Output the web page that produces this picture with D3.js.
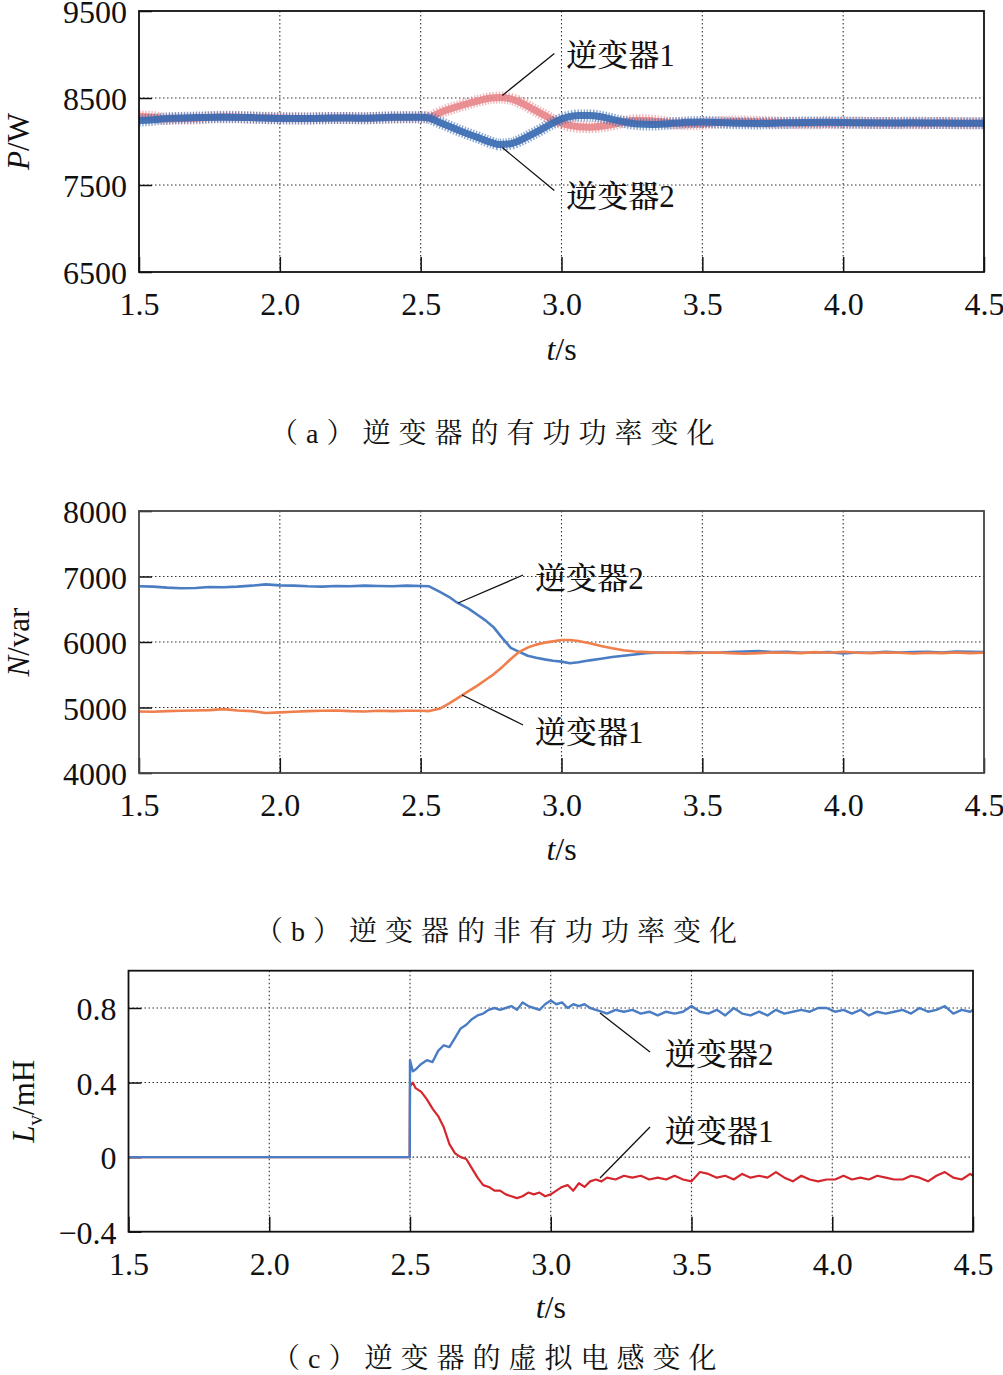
<!DOCTYPE html>
<html><head><meta charset="utf-8">
<script src="https://cdn.jsdelivr.net/npm/d3@7"></script>
<style>body{margin:0;background:#fff}svg{display:block}</style>
</head><body><svg id="c" width="1003" height="1375"></svg>
<script>
// ---------- data ----------
const timeTicks = [1.5, 2.0, 2.5, 3.0, 3.5, 4.0, 4.5];
const pTicks = [6500, 7500, 8500, 9500];
const nTicks = [4000, 5000, 6000, 7000, 8000];
const lTicks = [-0.4, 0, 0.4, 0.8];
const seriesNames = ['逆变器1', '逆变器2'];
const captions = [['a', '逆变器的有功功率变化'], ['b', '逆变器的非有功功率变化'], ['c', '逆变器的虚拟电感变化']];

// (a) active power P/W
const P_T = [1.5,1.55,1.6,1.7,1.8,1.9,2.0,2.1,2.2,2.3,2.4,2.5,2.53,2.56,2.6,2.65,2.7,2.75,2.78,2.82,2.86,2.9,2.94,2.98,3.02,3.06,3.1,3.14,3.18,3.22,3.27,3.32,3.38,3.45,3.5,3.56,3.62,3.7,3.78,3.86,3.95,4.05,4.15,4.25,4.35,4.5];
const P_INV1 = [8290,8280,8260,8265,8285,8275,8270,8265,8270,8268,8275,8280,8280,8320,8370,8420,8465,8500,8505,8490,8440,8370,8300,8235,8190,8170,8165,8175,8195,8225,8245,8240,8215,8200,8205,8220,8230,8225,8218,8210,8212,8215,8212,8210,8212,8210];
const P_INV2 = [8240,8250,8265,8275,8280,8275,8265,8265,8270,8268,8278,8280,8270,8230,8175,8110,8050,7990,7965,7975,8025,8090,8160,8230,8280,8300,8300,8285,8255,8225,8200,8195,8205,8220,8225,8218,8210,8208,8212,8218,8220,8215,8212,8215,8212,8210];

// (b) non-active power N/var
const N_T = [1.5,1.55,1.6,1.65,1.7,1.75,1.8,1.85,1.9,1.95,2.0,2.05,2.1,2.15,2.2,2.25,2.3,2.35,2.4,2.45,2.5,
  2.53,2.57,2.6,2.63,2.67,2.7,2.73,2.76,2.79,2.82,2.85,2.88,2.91,2.94,2.97,3.0,3.03,3.06,3.1,3.14,3.18,3.22,3.26,3.3,
  3.35,3.4,3.45,3.5,3.55,3.6,3.65,3.7,3.75,3.8,3.85,3.9,3.95,4.0,4.05,4.1,4.15,4.2,4.25,4.3,4.35,4.4,4.45,4.5];
const N_INV1 = [4940,4935,4945,4950,4955,4960,4975,4955,4945,4915,4925,4935,4945,4950,4955,4945,4940,4950,4945,4950,4950,
  4945,4985,5060,5140,5250,5330,5420,5510,5620,5740,5850,5915,5960,5990,6010,6030,6030,6015,5980,5940,5905,5875,5855,5845,
  5835,5840,5830,5835,5840,5830,5820,5830,5840,5835,5830,5845,5835,5850,5835,5830,5840,5835,5825,5835,5830,5840,5830,5835];
const N_INV2 = [6850,6845,6830,6820,6825,6840,6835,6845,6860,6880,6865,6860,6850,6845,6855,6850,6860,6855,6850,6860,6855,
  6850,6760,6690,6600,6510,6420,6330,6220,6060,5910,5850,5790,5760,5735,5715,5700,5675,5690,5720,5745,5770,5790,5810,5830,
  5840,5835,5845,5840,5835,5845,5855,5860,5845,5850,5835,5840,5845,5825,5840,5835,5850,5840,5845,5850,5840,5855,5850,5845];

// (c) virtual inductance Lv/mH
const L_T = [1.5,2.499,2.5,2.51,2.52,
  2.54,2.56,2.58,2.60,2.62,2.64,2.66,2.68,2.70,2.72,2.74,2.76,2.78,2.80,2.82,2.84,2.86,2.88,2.90,2.92,2.94,2.96,2.98,3.00,3.02,3.04,3.06,3.08,3.10,3.12,3.14,3.16,3.18,
  3.20,3.23,3.26,3.29,3.32,3.35,3.38,3.41,3.44,3.47,3.50,3.53,3.56,3.59,3.62,3.65,3.68,3.71,3.74,3.77,3.80,3.83,3.86,3.89,3.92,3.95,3.98,4.01,4.04,4.07,4.10,4.13,4.16,4.19,4.22,4.25,4.28,4.31,4.34,4.37,4.40,4.43,4.46,4.49,4.5];
const L_INV1 = [0,0,0.38,0.40,0.37,
  0.35,0.31,0.26,0.22,0.16,0.07,0.02,0.00,-0.01,-0.06,-0.11,-0.15,-0.16,-0.18,-0.18,-0.20,-0.21,-0.22,-0.21,-0.19,-0.20,-0.19,-0.21,-0.20,-0.18,-0.16,-0.15,-0.18,-0.14,-0.16,-0.13,-0.12,-0.13,
  -0.11,-0.12,-0.10,-0.11,-0.10,-0.12,-0.11,-0.12,-0.10,-0.12,-0.13,-0.08,-0.09,-0.11,-0.10,-0.12,-0.09,-0.11,-0.10,-0.11,-0.08,-0.11,-0.13,-0.10,-0.12,-0.13,-0.12,-0.12,-0.10,-0.12,-0.11,-0.12,-0.10,-0.11,-0.12,-0.12,-0.10,-0.11,-0.13,-0.10,-0.08,-0.11,-0.12,-0.09,-0.10];
const L_INV2 = [0,0,0.52,0.46,0.47,
  0.50,0.52,0.51,0.57,0.60,0.59,0.64,0.69,0.71,0.74,0.76,0.77,0.79,0.80,0.79,0.80,0.81,0.79,0.83,0.81,0.80,0.79,0.82,0.84,0.82,0.83,0.80,0.82,0.81,0.82,0.80,0.79,0.78,
  0.77,0.79,0.78,0.79,0.77,0.78,0.76,0.78,0.77,0.78,0.81,0.78,0.77,0.79,0.76,0.80,0.77,0.76,0.78,0.76,0.79,0.77,0.78,0.79,0.78,0.80,0.80,0.78,0.79,0.77,0.79,0.76,0.78,0.77,0.78,0.79,0.77,0.80,0.78,0.79,0.81,0.77,0.79,0.78,0.79];

// ---------- drawing ----------
const svg = d3.select('#c');
const SERIF = '"Liberation Serif","Times New Roman",serif';
const CJK = '"Noto Serif CJK SC","Noto Sans CJK SC","Noto Sans CJK JP",sans-serif';

const panels = [
  { l: 139, r: 984, t: 11, b: 272, dom: [6500, 9500], ticks: pTicks, grid: [7500, 8500], fmt: d3.format('d'),
    frame: '#111', yl: { x: 29, parts: [['P', 'italic'], ['/W', 'normal']] }, xlY: 360, cap: { x: 270, y: 443, i: 0 },
    series: [{ t: P_T, v: P_INV1, c: '#e8868b', band: true }, { t: P_T, v: P_INV2, c: '#3a6bb3', band: true }],
    ann: [{ i: 0, t: 2.79, v: 8530, dx: 52, dy: -42, tx: 12, ty: 13 }, { i: 1, t: 2.79, v: 7930, dx: 52, dy: 43, tx: 12, ty: 16 }] },
  { l: 139, r: 984, t: 511, b: 773, dom: [4000, 8000], ticks: nTicks, grid: [5000, 6000, 7000], fmt: d3.format('d'),
    frame: '#444', yl: { x: 29, parts: [['N', 'italic'], ['/var', 'normal']] }, xlY: 860, cap: { x: 255, y: 941, i: 1 },
    series: [{ t: N_T, v: N_INV2, c: '#4a7dc3', w: 2.6 }, { t: N_T, v: N_INV1, c: '#ef7f4c', w: 2.6 }],
    ann: [{ i: 1, t: 2.633, v: 6595, dx: 65, dy: -28, tx: 12, ty: 14 }, { i: 0, t: 2.647, v: 5191, dx: 61, dy: 30, tx: 12, ty: 18 }] },
  { l: 128.5, r: 973, t: 970.7, b: 1231.7, dom: [-0.4, 1.0], ticks: lTicks, grid: [0, 0.4, 0.8], fmt: d => d === 0 ? '0' : d3.format('.1f')(d),
    frame: '#111', yl: { x: 34, parts: [['L', 'italic'], ['v', 'sub'], ['/mH', 'normal']] }, xlY: 1318, cap: { x: 272, y: 1368, i: 2 },
    series: [{ t: L_T, v: L_INV1, c: '#d4262c', w: 2.2 }, { t: L_T, v: L_INV2, c: '#4a7dc3', w: 2.4 }],
    ann: [{ i: 1, t: 3.175, v: 0.773, dx: 50, dy: 39, tx: 15, ty: 13 }, { i: 0, t: 3.175, v: -0.112, dx: 50, dy: -51, tx: 15, ty: 15 }] }
];

panels.forEach(p => {
  const x = d3.scaleLinear().domain([1.5, 4.5]).range([p.l, p.r]);
  const y = d3.scaleLinear().domain(p.dom).range([p.b, p.t]);
  const g = svg.append('g');

  // grid
  g.append('g').selectAll('line').data(timeTicks.slice(1, -1)).join('line')
    .attr('x1', d => x(d)).attr('x2', d => x(d)).attr('y1', p.t).attr('y2', p.b)
    .attr('stroke', '#333').attr('stroke-width', 1.1).attr('stroke-dasharray', '1.5,2.5');
  g.append('g').selectAll('line').data(p.grid).join('line')
    .attr('x1', p.l).attr('x2', p.r).attr('y1', d => y(d)).attr('y2', d => y(d))
    .attr('stroke', '#333').attr('stroke-width', 1.1).attr('stroke-dasharray', '1.5,2.5');

  // axes
  const xa = g.append('g').attr('transform', `translate(0,${p.b})`)
    .call(d3.axisBottom(x).tickValues(timeTicks).tickSize(-15).tickFormat(d3.format('.1f')));
  xa.select('.domain').remove();
  xa.selectAll('.tick line').attr('stroke', '#111').attr('stroke-width', 1.5);
  xa.selectAll('text').attr('y', 43).attr('dy', 0).attr('fill', '#111')
    .style('font-family', SERIF).style('font-size', '32px');

  const ya = g.append('g').attr('transform', `translate(${p.l},0)`)
    .call(d3.axisLeft(y).tickValues(p.ticks).tickSize(-13).tickFormat(p.fmt));
  ya.select('.domain').remove();
  ya.selectAll('.tick line').attr('stroke', '#111').attr('stroke-width', 1.5);
  ya.selectAll('text').attr('x', -12).attr('dy', '0.36em').attr('fill', '#111')
    .style('font-family', SERIF).style('font-size', '32px');

  // series
  p.series.forEach(s => {
    const line = d3.line().x(d => x(d[0])).y(d => y(d[1]))
      .curve(s.band ? d3.curveMonotoneX : d3.curveLinear);
    const pts = d3.zip(s.t, s.v);
    if (s.band) {
      g.append('path').attr('d', line(pts)).attr('fill', 'none').attr('stroke', s.c)
        .attr('stroke-width', 7).attr('stroke-opacity', 0.9).attr('stroke-linejoin', 'round');
      g.append('path').attr('d', line(pts)).attr('fill', 'none').attr('stroke', s.c)
        .attr('stroke-width', 12).attr('stroke-opacity', 0.6).attr('stroke-dasharray', '1.4,1.6');
    } else {
      g.append('path').attr('d', line(pts)).attr('fill', 'none').attr('stroke', s.c)
        .attr('stroke-width', s.w).attr('stroke-linejoin', 'round');
    }
  });

  // frame
  g.append('rect').attr('x', p.l).attr('y', p.t).attr('width', p.r - p.l).attr('height', p.b - p.t)
    .attr('fill', 'none').attr('stroke', p.frame).attr('stroke-width', 1.8);

  // annotations
  p.ann.forEach(a => {
    const x0 = x(a.t), y0 = y(a.v), x1 = x0 + a.dx, y1 = y0 + a.dy;
    g.append('line').attr('x1', x0).attr('y1', y0).attr('x2', x1).attr('y2', y1)
      .attr('stroke', '#111').attr('stroke-width', 1.3);
    const name = seriesNames[a.i];
    const tx = g.append('text').attr('x', x1 + a.tx).attr('y', y1 + a.ty).attr('fill', '#111')
      .style('font-size', '31px');
    tx.append('tspan').style('font-family', CJK).style('font-weight', 500).text(name.slice(0, 3));
    tx.append('tspan').style('font-family', SERIF).text(name.slice(3));
  });

  // y label
  const yc = (p.t + p.b) / 2;
  const yl = g.append('text').attr('transform', `translate(${p.yl.x},${yc}) rotate(-90)`)
    .attr('text-anchor', 'middle').attr('fill', '#111')
    .style('font-family', SERIF).style('font-size', '31px');
  p.yl.parts.forEach(([txt, st]) => {
    const ts = yl.append('tspan').text(txt);
    if (st === 'italic') ts.style('font-style', 'italic');
    if (st === 'sub') { ts.style('font-size', '21px').attr('dy', 8); }
    if (st === 'normal' && p.yl.parts.some(q => q[1] === 'sub')) ts.attr('dy', -8);
  });

  // x label
  const xl = g.append('text').attr('x', (p.l + p.r) / 2).attr('y', p.xlY).attr('text-anchor', 'middle')
    .attr('fill', '#111').style('font-family', SERIF).style('font-size', '32px');
  xl.append('tspan').style('font-style', 'italic').text('t');
  xl.append('tspan').text('/s');

  // caption
  const [letter, rest] = captions[p.cap.i];
  const cp = svg.append('text').attr('x', p.cap.x).attr('y', p.cap.y).attr('fill', '#111')
    .style('font-size', '28px').style('letter-spacing', '8px');
  cp.append('tspan').style('font-family', CJK).text('（');
  cp.append('tspan').style('font-family', SERIF).text(letter);
  cp.append('tspan').style('font-family', CJK).text('）' + rest);
});
</script>
</body></html>
